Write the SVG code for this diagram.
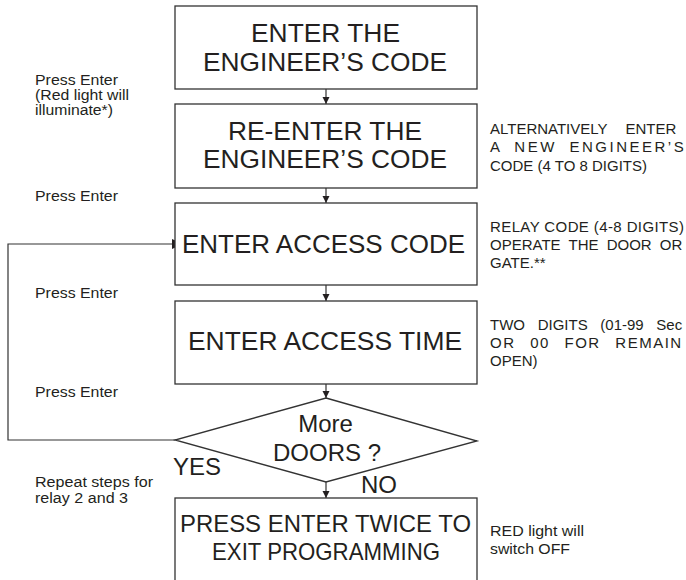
<svg xmlns="http://www.w3.org/2000/svg" width="686" height="580" viewBox="0 0 686 580">
<style>
.box{fill:#fff;stroke:#333;stroke-width:1.3}
.big{font-family:"Liberation Sans",Arial,sans-serif;font-size:26px;fill:#231f20;text-anchor:middle}
.mid{font-family:"Liberation Sans",Arial,sans-serif;font-size:24px;fill:#231f20}
.lbl{font-family:"Liberation Sans",Arial,sans-serif;font-size:14px;fill:#231f20}
.side{font-family:"Liberation Sans",Arial,sans-serif;font-size:15px;fill:#231f20}
.con{fill:none;stroke:#333;stroke-width:1.2}
</style>
<defs>
<marker id="arr" markerUnits="userSpaceOnUse" markerWidth="7" markerHeight="8" refX="7" refY="3.5" orient="auto">
<path d="M0,0 L7,3.5 L0,7 z" fill="#231f20"/>
</marker>
<marker id="arrBig" markerUnits="userSpaceOnUse" markerWidth="11" markerHeight="11" refX="11" refY="5" orient="auto">
<path d="M0,0 L11,5 L0,10 z" fill="#231f20"/>
</marker>
</defs>
<rect width="686" height="580" fill="#fff"/>

<g id="connectors">
<line class="con" x1="326" y1="89" x2="326" y2="104" marker-end="url(#arr)"/>
<line class="con" x1="326" y1="188" x2="326" y2="203" marker-end="url(#arr)"/>
<line class="con" x1="326" y1="285" x2="326" y2="301" marker-end="url(#arr)"/>
<line class="con" x1="326" y1="384" x2="326" y2="398" marker-end="url(#arr)"/>
<line class="con" x1="326" y1="482" x2="326" y2="498" marker-end="url(#arr)"/>
<polyline class="con" points="175,440 8,440 8,244 183,244" marker-end="url(#arrBig)"/>
</g>

<g id="node-engineer-code">
<rect class="box" x="175" y="6" width="302" height="83"/>
<text class="big" x="325.5" y="42" textLength="149" lengthAdjust="spacingAndGlyphs">ENTER THE</text>
<text class="big" x="325" y="71" textLength="244" lengthAdjust="spacingAndGlyphs">ENGINEER’S CODE</text>
</g>

<g id="node-reenter">
<rect class="box" x="175" y="104" width="302" height="84"/>
<text class="big" x="325" y="140" textLength="194" lengthAdjust="spacingAndGlyphs">RE-ENTER THE</text>
<text class="big" x="325" y="168" textLength="244" lengthAdjust="spacingAndGlyphs">ENGINEER’S CODE</text>
</g>

<g id="node-access-code">
<rect class="box" x="175" y="203" width="302" height="82"/>
<text class="big" x="323.5" y="253" textLength="283" lengthAdjust="spacingAndGlyphs">ENTER ACCESS CODE</text>
</g>

<g id="node-access-time">
<rect class="box" x="175" y="301" width="302" height="83"/>
<text class="big" x="325" y="350" textLength="274" lengthAdjust="spacingAndGlyphs">ENTER ACCESS TIME</text>
</g>

<g id="node-more-doors">
<polygon class="box" points="326,398 477,441 326,482 175,440"/>
<text class="mid" x="325.5" y="432" text-anchor="middle">More</text>
<text class="mid" x="327" y="461" text-anchor="middle">DOORS ?</text>
</g>

<g id="edge-labels">
<text class="mid" x="173" y="475">YES</text>
<text class="mid" x="361" y="493">NO</text>
</g>

<g id="node-exit">
<rect class="box" x="175" y="498" width="302" height="90"/>
<text class="mid" x="325.5" y="532" text-anchor="middle" textLength="291" lengthAdjust="spacingAndGlyphs">PRESS ENTER TWICE TO</text>
<text class="mid" x="326" y="560" text-anchor="middle" textLength="228" lengthAdjust="spacingAndGlyphs">EXIT PROGRAMMING</text>
</g>

<g id="left-notes">
<text class="lbl" x="35" y="85" textLength="83" lengthAdjust="spacingAndGlyphs">Press Enter</text>
<text class="lbl" x="35" y="100" textLength="94" lengthAdjust="spacingAndGlyphs">(Red light will</text>
<text class="lbl" x="35" y="115" textLength="78" lengthAdjust="spacingAndGlyphs">illuminate*)</text>
<text class="lbl" x="35" y="201" textLength="83" lengthAdjust="spacingAndGlyphs">Press Enter</text>
<text class="lbl" x="35" y="298" textLength="83" lengthAdjust="spacingAndGlyphs">Press Enter</text>
<text class="lbl" x="35" y="397" textLength="83" lengthAdjust="spacingAndGlyphs">Press Enter</text>
<text class="lbl" x="35" y="487" textLength="118" lengthAdjust="spacingAndGlyphs">Repeat steps for</text>
<text class="lbl" x="35" y="503" textLength="93" lengthAdjust="spacingAndGlyphs">relay 2 and 3</text>
</g>

<g id="right-notes">
<text class="side" x="490" y="134" word-spacing="14">ALTERNATIVELY ENTER</text>
<text class="side" x="490" y="152" letter-spacing="2.5" word-spacing="6">A NEW ENGINEER’S</text>
<text class="side" x="490" y="171">CODE (4 TO 8 DIGITS)</text>

<text class="side" x="490" y="232" textLength="194" lengthAdjust="spacing">RELAY CODE (4-8 DIGITS)</text>
<text class="side" x="490" y="250" word-spacing="4">OPERATE THE DOOR OR</text>
<text class="side" x="490" y="268">GATE.**</text>

<text class="side" x="490" y="330" word-spacing="8.5">TWO DIGITS (01-99 Sec</text>
<text class="side" x="490" y="348" letter-spacing="1.5" word-spacing="9">OR 00 FOR REMAIN</text>
<text class="side" x="490" y="366">OPEN)</text>

<text class="side" x="490" y="536" textLength="94" lengthAdjust="spacingAndGlyphs">RED light will</text>
<text class="side" x="490" y="554" textLength="80" lengthAdjust="spacingAndGlyphs">switch OFF</text>
</g>
</svg>
